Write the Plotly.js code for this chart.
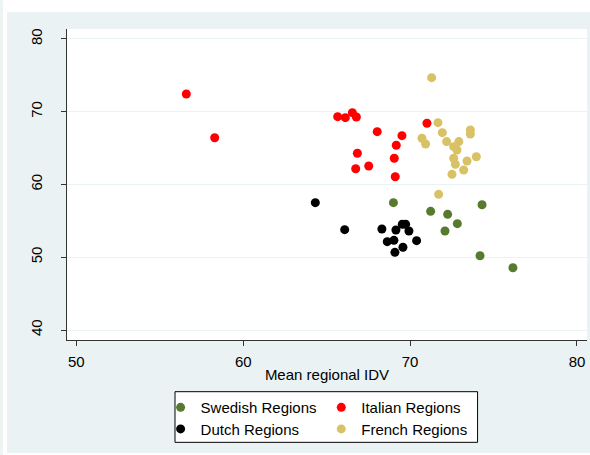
<!DOCTYPE html>
<html>
<head>
<meta charset="utf-8">
<script src="https://cdn.plot.ly/plotly-3.0.1.min.js"></script>
<style>
  html, body { margin: 0; padding: 0; background: #ffffff; width: 590px; height: 455px; overflow: hidden; }
  #strip { position: absolute; left: 0; top: 0; width: 3px; height: 455px; background: #EEF3F4; }
  #chart { position: absolute; left: 7px; top: 12px; width: 583px; height: 441px; }
</style>
</head>
<body>
<div id="strip"></div>
<div id="chart"></div>
<script>
// Data
const swedishIDV = [69.0, 74.31, 71.23, 72.25, 72.83, 72.09, 74.19, 76.16];
const swedishY   = [57.50, 57.22, 56.31, 55.90, 54.62, 53.61, 50.21, 48.56];

const italianIDV = [56.59, 58.29, 65.66, 66.12, 66.54, 66.78, 68.03, 69.51, 69.17, 66.84, 67.52, 66.74, 69.05, 69.11, 71.01];
const italianY   = [72.44, 66.43, 69.32, 69.19, 69.87, 69.28, 67.26, 66.71, 65.39, 64.29, 62.54, 62.17, 63.60, 61.07, 68.41];

const dutchIDV = [64.32, 66.08, 68.31, 69.15, 69.53, 69.73, 69.93, 68.63, 69.03, 70.39, 69.57, 69.09];
const dutchY   = [57.50, 53.79, 53.88, 53.75, 54.53, 54.53, 53.61, 52.14, 52.33, 52.28, 51.37, 50.68];

const frenchIDV = [71.29, 71.67, 71.93, 73.61, 73.61, 70.71, 70.93, 72.19, 72.92, 72.61, 72.81, 72.61, 72.71, 72.51, 73.21, 73.41, 73.97, 71.71];
const frenchY   = [74.68, 68.50, 67.12, 67.49, 66.94, 66.35, 65.57, 65.90, 65.90, 65.20, 64.74, 63.60, 62.78, 61.40, 61.99, 63.23, 63.82, 58.65];

const xTicks = [50, 60, 70, 80];
const yTicks = [40, 50, 60, 70, 80];

const seriesNames = ['Swedish Regions', 'Italian Regions', 'Dutch Regions', 'French Regions'];
const seriesColors = ['#587A2E', '#FF0000', '#000000', '#D9C165'];

function mk(x, y, i, legend) {
  return {
    type: 'scatter', mode: 'markers', x: x, y: y, name: seriesNames[i],
    legend: legend,
    marker: { color: seriesColors[i], size: 9, line: { width: 0 } },
    hoverinfo: 'x+y+name'
  };
}

const traces = [
  mk(swedishIDV, swedishY, 0, 'legend'),
  mk(italianIDV, italianY, 1, 'legend2'),
  mk(dutchIDV, dutchY, 2, 'legend3'),
  mk(frenchIDV, frenchY, 3, 'legend4')
];

const legendFont = { family: 'Liberation Sans, Arial, sans-serif', size: 15, color: '#000' };
function leg(x, y) {
  return {
    x: x, xref: 'paper', xanchor: 'left',
    y: y, yref: 'paper', yanchor: 'top',
    bgcolor: 'rgba(0,0,0,0)', borderwidth: 0,
    font: legendFont, orientation: 'v', itemwidth: 30
  };
}

const layout = {
  width: 583, height: 441,
  margin: { l: 60, r: 3, t: 17, b: 113, pad: 0 },
  paper_bgcolor: '#EAF2F3',
  plot_bgcolor: '#FFFFFF',
  font: { family: 'Liberation Sans, Arial, sans-serif', size: 15, color: '#000' },
  showlegend: true,
  xaxis: {
    range: [49.44, 80.6],
    tickvals: xTicks,
    ticktext: xTicks.map(String),
    ticks: 'outside', ticklen: 5, tickcolor: '#333', tickwidth: 1,
    showline: true, linecolor: '#333', linewidth: 1,
    showgrid: false, zeroline: false,
    tickfont: { size: 15 },
    ticklabelstandoff: 3,
    title: { text: 'Mean regional IDV', font: { size: 15 }, standoff: 0 }
  },
  yaxis: {
    range: [38.63, 81.37],
    tickvals: yTicks,
    ticktext: yTicks.map(String),
    ticks: 'outside', ticklen: 5, tickcolor: '#333', tickwidth: 1,
    showline: true, linecolor: '#333', linewidth: 1,
    showgrid: true, gridcolor: '#EAF2F3', gridwidth: 1,
    zeroline: false,
    tickangle: -90,
    ticklabelstandoff: 13,
    tickfont: { size: 15 }
  },
  legend: leg(0.180, -0.1643),
  legend2: leg(0.489, -0.1643),
  legend3: leg(0.180, -0.2337),
  legend4: leg(0.489, -0.2337),
  shapes: [{
    type: 'rect', xref: 'paper', yref: 'paper',
    x0: 0.2077, x1: 0.7896, y0: -0.329, y1: -0.1662,
    fillcolor: '#FFFFFF', line: { color: '#000', width: 1 }, layer: 'above'
  }]
};

Plotly.newPlot('chart', traces, layout, { displayModeBar: false, staticPlot: true });
</script>
</body>
</html>
